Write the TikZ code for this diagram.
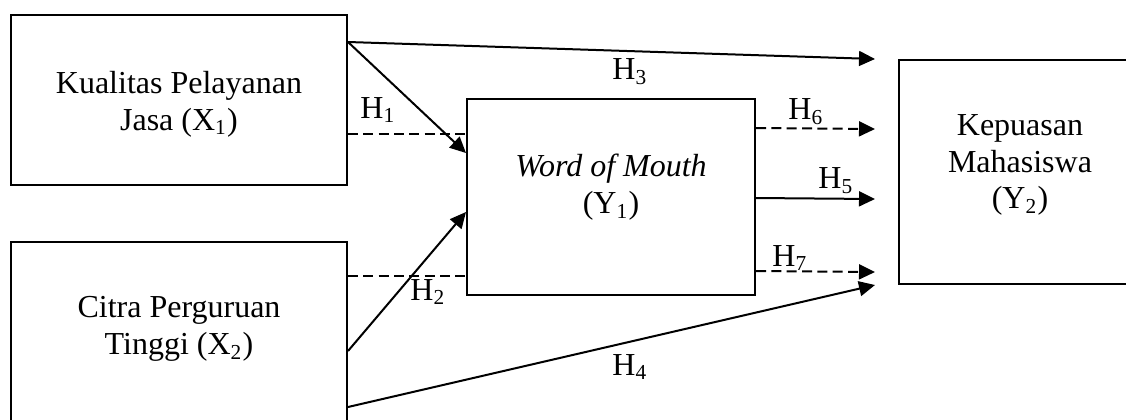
\documentclass[tikz,border=0pt]{standalone}
\usepackage{fontspec}
\setmainfont{Liberation Serif}
\usetikzlibrary{arrows.meta,calc}
\begin{document}
\begin{tikzpicture}[x=0.375pt,y=-0.375pt,
  box/.style={draw,line width=0.75pt,inner sep=0pt},
  lbl/.style={font=\fontsize{12}{13.8}\selectfont,align=center,inner sep=0pt},
  conn/.style={line width=0.75pt},
  arr/.style={conn,-{Triangle[length=6pt,width=5.6pt]}},
  dsh/.style={dash pattern=on 3.75pt off 2pt}]
\useasboundingbox (0,0) rectangle (1126,419);
\clip (0,0) rectangle (1126,419);
% boxes
\node[box,minimum width=126pt,minimum height=63.75pt] (X1) at (179,100) {};
\node[box,minimum width=126pt,minimum height=67.5pt] (X2) at (179,332) {};
\node[box,minimum width=108pt,minimum height=73.5pt] (Y1) at (611,197) {};
\node[box,minimum width=93pt,minimum height=84pt] (Y2) at (1023,172) {};
% box texts
\node[lbl] (X1t) at (179,104) {Kualitas Pelayanan\\Jasa (X\textsubscript{1})};
\node[lbl] (X2t) at (179,329) {Citra Perguruan\\Tinggi (X\textsubscript{2})};
\node[lbl] (Y1t) at (611,187) {\textit{Word of Mouth}\\(Y\textsubscript{1})};
\node[lbl] (Y2t) at (1020,165) {Kepuasan\\Mahasiswa\\(Y\textsubscript{2})};
% free ends
\coordinate (t3) at (875,59);
\coordinate (t4) at (875,285);
\coordinate (t6) at (875,129);
\coordinate (t5) at (875,199);
\coordinate (t7) at (875,272);
% connectors
\draw[arr] ($(X1.north east)+(0,28)$) -- (t3);
\draw[arr] ($(X1.north east)+(0,28)$) -- ($(Y1.north west)+(0,55)$);
\draw[conn,dsh] ($(X1.north east)+(0,120)$) -- ($(Y1.north west)+(0,36)$);
\draw[conn,dsh] ($(X2.north east)+(0,35)$) -- ($(Y1.north west)+(0,178)$);
\draw[arr] ($(X2.north east)+(0,110)$) -- ($(Y1.north west)+(0,114)$);
\draw[arr] ($(X2.north east)+(0,166)$) -- (t4);
\draw[arr,dsh] ($(Y1.north east)+(0,30)$) -- (t6);
\draw[arr] ($(Y1.north east)+(0,100)$) -- (t5);
\draw[arr,dsh] ($(Y1.north east)+(0,173)$) -- (t7);
% labels
\node[lbl] (h1) at (378,110) {H\textsubscript{1}};
\node[lbl] (h2) at (428,292) {H\textsubscript{2}};
\node[lbl] (h3) at (630,72) {H\textsubscript{3}};
\node[lbl] (h4) at (630,367) {H\textsubscript{4}};
\node[lbl] (h5) at (836,181) {H\textsubscript{5}};
\node[lbl] (h6) at (806,112) {H\textsubscript{6}};
\node[lbl] (h7) at (790,258) {H\textsubscript{7}};
\end{tikzpicture}
\end{document}
